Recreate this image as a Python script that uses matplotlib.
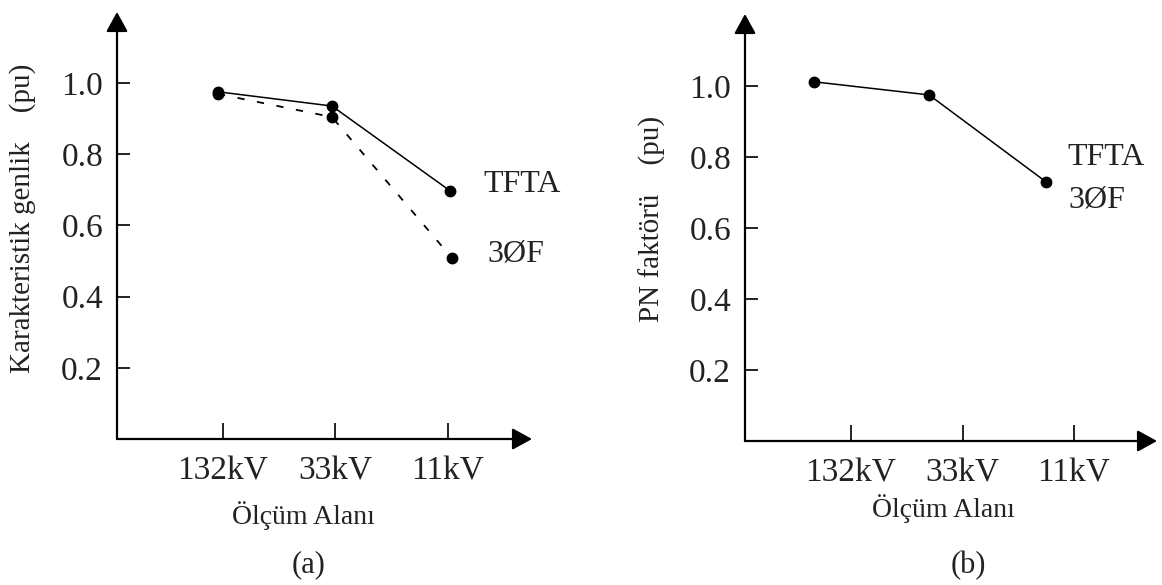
import matplotlib
matplotlib.use("Agg")
import matplotlib.pyplot as plt

plt.rcParams['font.family'] = ['Liberation Serif', 'DejaVu Serif']

# data
kademeler = ["132kV", "33kV", "11kV"]
tick_x = [1, 2, 3]
y_ticks = [0.2, 0.4, 0.6, 0.8, 1.0]

a_x_tfta = [0.956, 1.969, 3.018]
a_tfta = [0.975, 0.935, 0.697]
a_x_3f = [0.956, 1.969, 3.036]
a_3f = [0.969, 0.904, 0.508]

b_x = [0.668, 1.70, 2.749]
b_pn = [1.012, 0.975, 0.730]

W, H = 1162, 585
fig = plt.figure(figsize=(W / 100, H / 100), dpi=100)


def px_axes(l, r, b, t):
    return fig.add_axes([l / W, 1 - b / H, (r - l) / W, (b - t) / H])


def px_text(x, y, s, **kw):
    fig.text(x / W, 1 - y / H, s, **kw)


def setup(ax, xlim, ylim):
    ax.set_xlim(*xlim)
    ax.set_ylim(*ylim)
    for s in ax.spines.values():
        s.set_visible(False)
    ap = dict(arrowstyle='-|>,head_length=0.4,head_width=0.22', mutation_scale=30,
              lw=1.6, color='black', shrinkA=0, shrinkB=0)
    ax.annotate('', xy=(1, 0), xytext=(0, 0), xycoords='axes fraction', arrowprops=ap, annotation_clip=False)
    ax.annotate('', xy=(0, 1), xytext=(0, 0), xycoords='axes fraction', arrowprops=ap, annotation_clip=False)
    ax.set_xticks(tick_x, kademeler)
    ax.set_yticks(y_ticks, [f"{v:.1f}" for v in y_ticks])
    ax.tick_params(axis='y', direction='in', length=9, width=1.4, pad=10, labelsize=24, colors='#222222')
    ax.tick_params(axis='x', direction='in', length=11.5, width=1.4, pad=12, labelsize=24, colors='#222222')
    ax.patch.set_alpha(0)


# (a)
ax1 = px_axes(117, 532, 439, 12)
setup(ax1, (0.058, 3.747), (0, 1.199))
ax1.plot(a_x_tfta, a_tfta, '-', color='black', lw=1.1, marker='o', ms=7.5, clip_on=False)
ax1.plot(a_x_3f, a_3f, color='black', lw=1.3, ls=(0, (4, 7)), marker='o', ms=7.5, clip_on=False)

px_text(483, 184, "TFTA", fontsize=23, va='center', ha='left', color='#222222')
px_text(487, 254, "3ØF", fontsize=23, va='center', ha='left', color='#222222')
px_text(23, 218, "Karakteristik genlik    (pu)", fontsize=21, rotation=90, ha='center', va='center', color='#222222')
px_text(303, 516, "Ölçüm Alanı", fontsize=20, ha='center', va='center', color='#222222')
px_text(309, 565, "(a)", fontsize=22, ha='center', va='center', color='#222222')

# (b)
ax2 = px_axes(745, 1157, 441, 14)
setup(ax2, (0.049, 3.744), (0, 1.203))
ax2.plot(b_x, b_pn, '-', color='black', lw=1.1, marker='o', ms=7.5, clip_on=False)

px_text(1067, 158, "TFTA", fontsize=23, va='center', ha='left', color='#222222')
px_text(1068, 200, "3ØF", fontsize=23, va='center', ha='left', color='#222222')
px_text(652, 219, "PN faktörü    (pu)", fontsize=21, rotation=90, ha='center', va='center', color='#222222')
px_text(943, 509, "Ölçüm Alanı", fontsize=20, ha='center', va='center', color='#222222')
px_text(968, 566, "(b)", fontsize=22, ha='center', va='center', color='#222222')

fig.savefig("out.png", dpi=100)
